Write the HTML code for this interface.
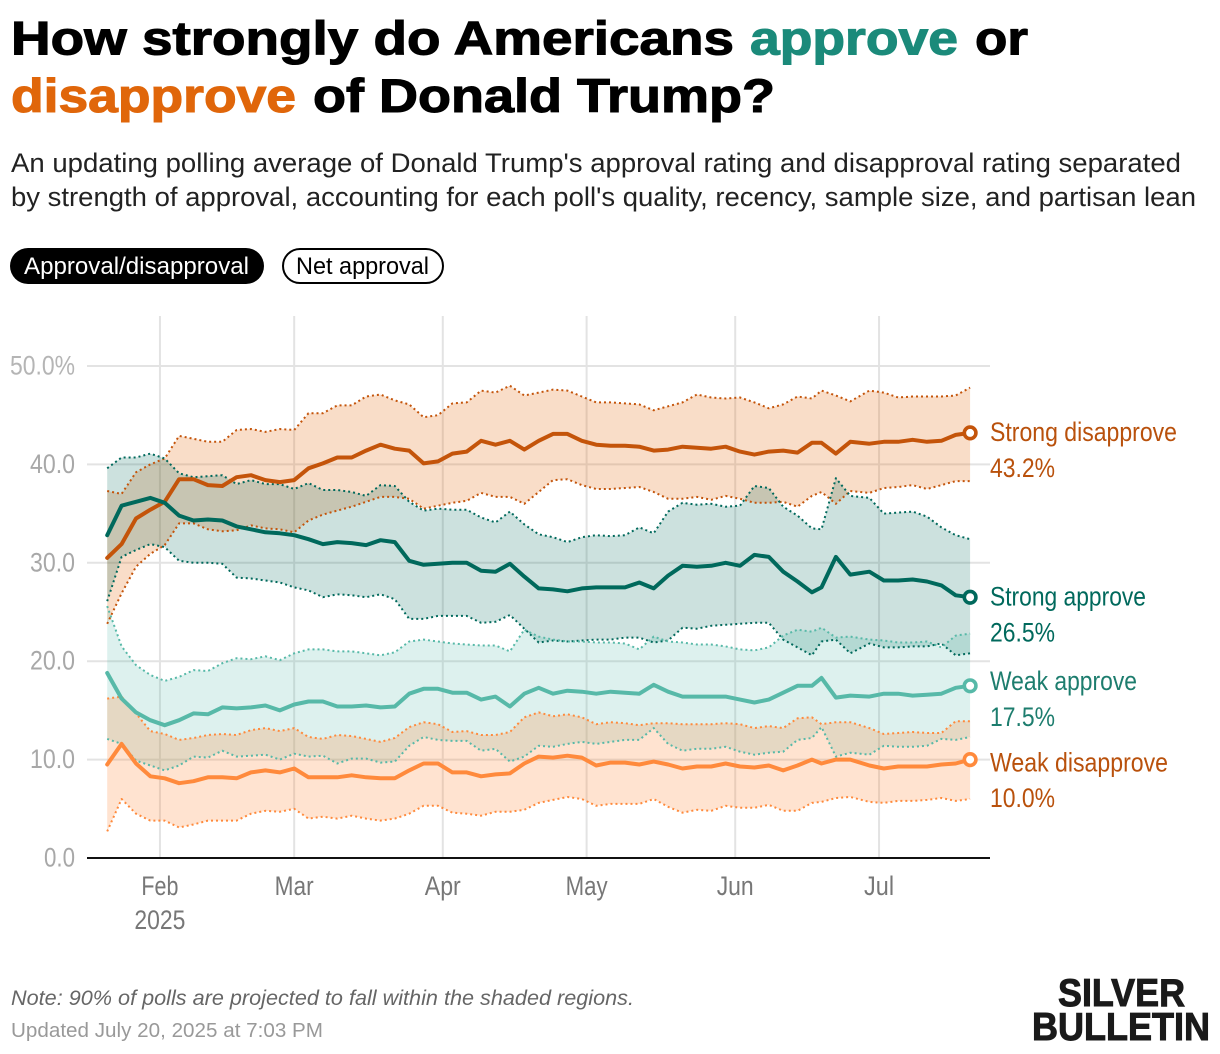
<!DOCTYPE html>
<html lang="en">
<head>
<meta charset="utf-8">
<title>How strongly do Americans approve or disapprove of Donald Trump?</title>
<style>
html,body{margin:0;padding:0;background:#fff;}
svg{display:block;font-family:"Liberation Sans",sans-serif;}
</style>
</head>
<body>
<svg id="chart" xmlns="http://www.w3.org/2000/svg" width="1220" height="1054" viewBox="0 0 1220 1054">
  <g font-size="47" font-weight="700" stroke-width="1.1">
    <text x="11" y="54.5" fill="#000" stroke="#000" textLength="723" lengthAdjust="spacingAndGlyphs">How strongly do Americans</text>
    <text x="750" y="54.5" fill="#1b8a7a" stroke="#1b8a7a" textLength="208" lengthAdjust="spacingAndGlyphs">approve</text>
    <text x="975" y="54.5" fill="#000" stroke="#000" textLength="53" lengthAdjust="spacingAndGlyphs">or</text>
    <text x="11" y="112" fill="#e0660a" stroke="#e0660a" textLength="285" lengthAdjust="spacingAndGlyphs">disapprove</text>
    <text x="313" y="112" fill="#000" stroke="#000" textLength="462" lengthAdjust="spacingAndGlyphs">of Donald Trump?</text>
  </g>
  <g font-size="27" fill="#222">
    <text x="11" y="172" textLength="1170" lengthAdjust="spacingAndGlyphs">An updating polling average of Donald Trump's approval rating and disapproval rating separated</text>
    <text x="11" y="206" textLength="1185" lengthAdjust="spacingAndGlyphs">by strength of approval, accounting for each poll's quality, recency, sample size, and partisan lean</text>
  </g>
  <g>
    <rect x="10" y="248" width="254" height="36" rx="18" fill="#000"/>
    <text x="24" y="274" font-size="24" fill="#fff" textLength="225" lengthAdjust="spacingAndGlyphs">Approval/disapproval</text>
  </g>
  <g>
    <rect x="283" y="249" width="160" height="34" rx="17" fill="#fff" stroke="#000" stroke-width="2"/>
    <text x="296" y="274" font-size="24" fill="#000" textLength="133" lengthAdjust="spacingAndGlyphs">Net approval</text>
  </g>
  <g id="plot"></g>
  <g font-size="21">
    <text x="11" y="1005" font-style="italic" fill="#666" textLength="623" lengthAdjust="spacingAndGlyphs">Note: 90% of polls are projected to fall within the shaded regions.</text>
    <text x="11" y="1037" font-size="20" fill="#999" textLength="312" lengthAdjust="spacingAndGlyphs">Updated July 20, 2025 at 7:03 PM</text>
  </g>
  <g font-size="39" font-weight="700" fill="#1a1a1a" stroke="#1a1a1a" stroke-width="1">
    <text x="1058" y="1006" textLength="127" lengthAdjust="spacingAndGlyphs">SILVER</text>
    <text x="1032" y="1040" textLength="178" lengthAdjust="spacingAndGlyphs">BULLETIN</text>
  </g>
</svg>
<script>
const days = [0,3,6,9,12,15,18,21,24,27,30,33,36,39,42,45,48,51,54,57,60,63,66,69,72,75,78,81,84,87,90,93,96,99,102,105,108,111,114,117,120,123,126,129,132,135,138,141,144,147,149,152,155,159,162,165,168,171,174,177,180];

const strongDisapproveHigh = [37.3,37.0,39.2,40.0,40.6,42.9,42.6,42.3,42.3,43.5,43.6,43.3,43.6,43.5,45.2,45.2,46.0,46.0,46.9,
47.1,46.5,46.1,44.8,45.0,46.2,46.3,47.5,47.3,48.0,47.0,47.3,47.6,47.5,46.9,46.3,46.3,46.2,46.1,45.5,45.9,
46.3,47.1,46.8,46.7,46.8,46.3,45.7,46.1,46.9,46.7,47.5,47.0,46.4,47.5,47.3,46.8,46.9,46.9,46.9,47.0,47.8];
const strongDisapproveMean = [30.5,31.9,34.5,35.4,36.2,38.5,38.5,37.9,37.8,38.7,38.9,38.4,38.2,38.4,39.6,40.1,40.7,40.7,41.4,
42.0,41.6,41.4,40.1,40.3,41.1,41.3,42.4,42.0,42.4,41.5,42.4,43.1,43.1,42.4,42.0,41.9,41.9,41.8,41.4,41.5,
41.8,41.7,41.6,41.8,41.3,41.0,41.3,41.4,41.2,42.2,42.2,41.1,42.3,42.1,42.3,42.3,42.5,42.3,42.4,43.0,43.2];
const strongDisapproveLow = [23.8,26.9,29.6,30.9,31.8,34.0,34.0,33.4,33.2,33.3,33.8,33.5,33.4,33.1,34.3,34.9,35.3,35.7,36.2,
36.7,36.7,36.5,35.5,35.8,36.1,36.3,37.1,36.7,36.7,36.0,37.2,38.4,38.5,37.9,37.5,37.5,37.6,37.7,37.2,36.5,
36.5,36.7,36.4,36.8,36.5,36.1,36.1,36.2,35.7,36.8,37.2,36.0,37.3,37.1,37.6,37.7,37.9,37.5,37.9,38.3,38.3];

const strongApproveHigh = [39.6,40.7,40.7,41.1,40.6,39.1,38.7,38.8,38.9,38.0,38.4,38.0,38.0,37.5,38.1,37.4,37.4,37.2,36.8,
37.9,37.8,36.2,35.3,35.5,35.4,35.4,34.6,34.1,35.2,33.9,32.9,32.6,32.1,32.6,32.8,32.7,32.8,33.6,33.0,35.2,
36.1,35.9,36.0,35.7,35.8,37.8,37.6,35.7,34.8,33.5,33.4,38.6,36.8,36.6,35.0,35.1,35.2,34.7,33.6,32.8,32.4];
const strongApproveMean = [32.8,35.8,36.2,36.6,36.1,34.8,34.3,34.4,34.3,33.7,33.4,33.1,33.0,32.8,32.4,31.9,32.1,32.0,31.8,
32.3,32.1,30.2,29.8,29.9,30.0,30.0,29.2,29.1,29.9,28.6,27.4,27.3,27.1,27.4,27.5,27.5,27.5,28.0,27.4,28.7,
29.7,29.6,29.7,30.0,29.7,30.8,30.6,29.1,28.1,27.0,27.5,30.6,28.8,29.1,28.2,28.2,28.3,28.1,27.7,26.7,26.5];
const strongApproveLow = [26.1,30.6,31.3,31.9,31.6,30.2,30.0,30.0,29.9,28.5,28.4,28.2,28.0,27.5,27.2,26.5,26.8,26.7,26.5,
26.8,26.3,24.3,24.3,24.6,24.6,24.6,23.9,24.0,24.7,23.3,21.9,22.1,22.0,22.1,22.2,22.2,22.4,22.4,21.9,22.1,
23.4,23.3,23.6,23.7,23.8,23.9,23.9,22.2,21.4,20.6,22.0,22.2,20.8,21.8,21.4,21.4,21.5,21.5,21.8,20.6,20.8];

const weakApproveHigh = [25.6,21.5,19.6,18.6,18.0,18.4,19.1,19.0,19.8,20.3,20.2,20.5,20.1,20.8,21.2,21.2,21.0,21.0,20.8,
20.6,20.9,22.0,22.2,22.0,21.8,21.7,21.6,21.6,21.0,23.2,22.5,22.2,22.0,22.0,21.9,21.9,21.8,21.2,22.5,22.0,
21.9,21.7,21.7,21.5,21.2,21.1,21.4,22.6,23.2,23.0,23.4,22.4,22.5,22.2,22.1,21.9,21.9,22.0,21.4,22.6,22.8];
const weakApproveMean = [18.8,16.2,14.8,14.0,13.5,14.0,14.7,14.6,15.3,15.2,15.3,15.5,15.0,15.6,15.9,15.9,15.4,15.4,15.5,
15.3,15.4,16.7,17.2,17.2,16.8,16.8,16.1,16.4,15.4,16.7,17.3,16.7,17.0,16.9,16.7,16.9,16.8,16.7,17.6,16.9,
16.4,16.4,16.4,16.4,16.1,15.8,16.1,16.8,17.5,17.5,18.3,16.3,16.5,16.4,16.7,16.7,16.5,16.6,16.7,17.3,17.5];
const weakApproveLow = [12.1,11.6,9.9,9.4,8.9,9.4,10.3,10.2,10.9,10.3,10.4,10.5,10.0,10.6,10.3,10.4,9.6,10.1,10.1,
9.7,9.8,11.4,12.3,12.0,11.9,11.9,10.9,11.1,9.8,10.3,11.4,11.3,11.6,11.8,11.6,11.8,12.0,12.0,13.2,11.6,
10.9,11.1,11.1,11.3,10.8,10.5,10.7,10.8,12.0,12.2,13.3,10.3,10.7,10.5,11.4,11.3,11.3,11.4,12.1,12.0,12.3];

const weakDisapproveHigh = [16.2,16.4,14.7,12.9,12.6,12.0,12.2,12.5,12.6,12.5,13.0,13.2,12.9,13.2,12.3,12.1,12.5,12.4,12.1,
11.8,12.2,13.3,13.8,13.6,12.8,12.9,12.5,12.5,12.8,14.3,14.8,14.4,14.6,14.3,13.6,13.8,13.7,13.5,13.7,13.7,
13.6,13.6,13.6,13.7,13.6,13.2,13.4,13.2,14.2,14.3,13.6,13.8,13.8,13.2,12.6,12.7,12.8,12.7,12.7,13.9,13.9];
const weakDisapproveMean = [9.5,11.6,9.6,8.3,8.1,7.6,7.8,8.2,8.2,8.1,8.7,8.9,8.7,9.1,8.2,8.2,8.2,8.4,8.2,
8.1,8.1,8.9,9.6,9.6,8.7,8.7,8.3,8.5,8.6,9.6,10.3,10.2,10.4,10.2,9.4,9.7,9.7,9.5,9.8,9.5,
9.1,9.3,9.3,9.6,9.3,9.2,9.4,8.9,9.4,10.0,9.6,10.0,10.0,9.4,9.1,9.3,9.3,9.3,9.5,9.6,10.0];
const weakDisapproveLow = [2.7,6.0,4.5,3.8,3.8,3.1,3.4,3.8,3.8,3.8,4.5,4.8,4.7,5.0,4.0,4.2,4.0,4.3,4.0,
3.8,4.0,4.5,5.3,5.3,4.6,4.5,4.3,4.7,4.7,4.9,5.6,5.9,6.2,6.0,5.3,5.5,5.5,5.5,6.0,5.2,
4.6,4.9,4.8,5.3,5.1,5.1,5.4,4.8,4.8,5.6,5.7,6.1,6.2,5.7,5.6,5.8,5.8,5.9,6.1,5.8,6.0];

const yTickValues = [0,10,20,30,40,50];
const yTickLabels = ['0.0','10.0','20.0','30.0','40.0','50.0%'];
const monthTickDays = [11,39,70,100,131,161];
const monthTickLabels = ['Feb','Mar','Apr','May','Jun','Jul'];
const yearLabel = '2025';

const NS = 'http://www.w3.org/2000/svg';
const plot = document.getElementById('plot');
const monthLabelStyle = {Feb: 37, Mar: 39, Apr: 36, May: 42, Jun: 37, Jul: 30};
function xScale(day) { return 107.2 + day * 4.794; }
function yScale(value) { return 858 - value * 9.84; }
function make(tag, parent, attrs) {
  const el = document.createElementNS(NS, tag);
  for (const k in attrs) el.setAttribute(k, attrs[k]);
  parent.appendChild(el);
  return el;
}
function linePath(values) {
  return values.map(function (v, i) {
    return (i ? 'L' : 'M') + xScale(days[i]).toFixed(1) + ' ' + yScale(v).toFixed(1);
  }).join(' ');
}
function bandPath(high, low) {
  const rev = low.map(function (v, i) {
    return 'L' + xScale(days[i]).toFixed(1) + ' ' + yScale(v).toFixed(1);
  }).reverse().join(' ');
  return linePath(high) + ' ' + rev + ' Z';
}

/* grid */
yTickValues.forEach(function (v, i) {
  if (v > 0) {
    const g = make('line', plot, {x1: 87, x2: 990, y1: yScale(v), y2: yScale(v), stroke: '#e3e3e3', 'stroke-width': 2});
    
    
  }
  const t = make('text', plot, {x: 75, y: yScale(v) + 8.5, 'text-anchor': 'end', 'font-size': 27, fill: i === 5 ? '#b5b5b5' : '#a8a8a8', textLength: i === 5 ? 65 : (i === 0 ? 31 : 45), lengthAdjust: 'spacingAndGlyphs'});
  
  
  t.textContent = yTickLabels[i];
});
monthTickDays.forEach(function (d, i) {
  const g = make('line', plot, {x1: xScale(d), x2: xScale(d), y1: 316, y2: 858, stroke: '#e3e3e3', 'stroke-width': 2});
  
  
  const t = make('text', plot, {x: xScale(d), y: 895, 'text-anchor': 'middle', 'font-size': 27, fill: '#777', textLength: monthLabelStyle[monthTickLabels[i]], lengthAdjust: 'spacingAndGlyphs'});
  
  
  t.textContent = monthTickLabels[i];
});
const yearText = make('text', plot, {x: xScale(monthTickDays[0]), y: 929, 'text-anchor': 'middle', 'font-size': 27, fill: '#777', textLength: 51, lengthAdjust: 'spacingAndGlyphs'});


yearText.textContent = yearLabel;

/* series, drawn back to front */
const seriesList = [
  {key: 'strong-disapprove', label: 'Strong disapprove', high: strongDisapproveHigh, mean: strongDisapproveMean, low: strongDisapproveLow, color: '#c4540a', fill: '#e8701a', textColor: '#b9510c', fillOp: 0.24, labelLen: 187, nameDy: 8, valDy: 44},
  {key: 'strong-approve', label: 'Strong approve', high: strongApproveHigh, mean: strongApproveMean, low: strongApproveLow, color: '#00695c', fill: '#00695c', textColor: '#00695c', fillOp: 0.2, labelLen: 156, nameDy: 8.5, valDy: 44.5},
  {key: 'weak-approve', label: 'Weak approve', high: weakApproveHigh, mean: weakApproveMean, low: weakApproveLow, color: '#57b9a8', fill: '#57b9a8', textColor: '#1d7d6e', fillOp: 0.2, labelLen: 147, nameDy: 4, valDy: 40},
  {key: 'weak-disapprove', label: 'Weak disapprove', high: weakDisapproveHigh, mean: weakDisapproveMean, low: weakDisapproveLow, color: '#ff8a3c', fill: '#ff8a3c', textColor: '#b9510c', fillOp: 0.24, labelLen: 178, nameDy: 12, valDy: 47.5}
];
seriesList.forEach(function (s) {
  const band = make('path', plot, {d: bandPath(s.high, s.low), fill: s.fill, 'fill-opacity': s.fillOp, stroke: 'none'});
  
  
});
seriesList.forEach(function (s) {
  const hi = make('path', plot, {d: linePath(s.high), fill: 'none', stroke: s.color, 'stroke-width': 2, 'stroke-dasharray': '2 3', 'stroke-linejoin': 'round'});
  
  
  const lo = make('path', plot, {d: linePath(s.low), fill: 'none', stroke: s.color, 'stroke-width': 2, 'stroke-dasharray': '2 3', 'stroke-linejoin': 'round'});
  
  
});
seriesList.forEach(function (s) {
  const mean = make('path', plot, {d: linePath(s.mean), fill: 'none', stroke: s.color, 'stroke-width': 4, 'stroke-linejoin': 'round', 'stroke-linecap': 'round'});
  
  
  const lastV = s.mean[s.mean.length - 1];
  const lastX = xScale(days[days.length - 1]);
  const lastY = yScale(lastV);
  const dot = make('circle', plot, {cx: lastX, cy: lastY, r: 5.8, fill: '#fff', stroke: s.color, 'stroke-width': 3.6});
  
  
  const name = make('text', plot, {x: 990, y: lastY + s.nameDy, 'font-size': 27, fill: s.textColor, textLength: s.labelLen, lengthAdjust: 'spacingAndGlyphs'});
  
  
  name.textContent = s.label;
  const val = make('text', plot, {x: 990, y: lastY + s.valDy, 'font-size': 27, fill: s.textColor, textLength: 65, lengthAdjust: 'spacingAndGlyphs'});
  
  
  val.textContent = lastV.toFixed(1) + '%';
});
const axisLine = make('line', plot, {x1: 87, x2: 990, y1: yScale(0), y2: yScale(0), stroke: '#111', 'stroke-width': 2});


</script>
</body>
</html>
